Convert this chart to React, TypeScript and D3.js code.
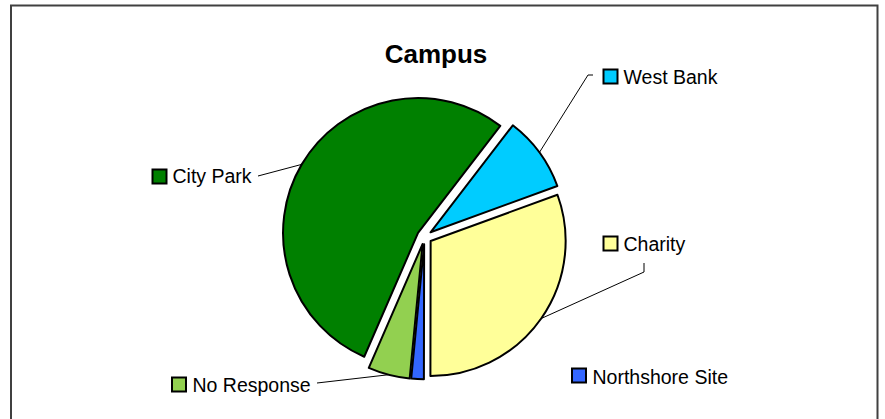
import React from "react";
import * as d3 from "d3";

const categories = ["City Park", "West Bank", "Charity", "Northshore Site", "No Response"];
const values = [53.9, 9.0, 30.6, 1.5, 5.0];
const colors = ["#008000", "#00CCFF", "#FFFF99", "#3366FF", "#92D050"];
const title = "Campus";

// layout (not data)
const W = 885, H = 419;
const cx = 424.5, cy = 236.75, R = 135, explode = 7.5;
const startDeg = 203.5;
const labelLayout = [
  { sx: 152.5, sy: 169.5, tx: 172.5, ty: 183, knee: [[258, 176]] as number[][] },
  { sx: 603.5, sy: 69.5, tx: 623.5, ty: 83.5, knee: [[593, 75], [588, 75]] },
  { sx: 603.5, sy: 236.5, tx: 623.5, ty: 251, knee: [[644, 263], [644, 272]] },
  { sx: 572, sy: 368.5, tx: 592.5, ty: 383.5, knee: [] },
  { sx: 172, sy: 377.5, tx: 192.5, ty: 392, knee: [[317, 383]] },
];

export default function App() {
  const a0 = (startDeg * Math.PI) / 180;
  const pie = d3.pie<number>().sort(null).value((d) => d).startAngle(a0).endAngle(a0 + 2 * Math.PI);
  const arcs = pie(values);
  const arcGen = d3.arc<d3.PieArcDatum<number>>().innerRadius(0).outerRadius(R);
  const edgeGen = d3.arc<d3.PieArcDatum<number>>().innerRadius(R).outerRadius(R);
  const line = d3.line();

  return (
    <svg width={W} height={H} style={{ position: "absolute", left: 0, top: 0 }} fontFamily="'Liberation Sans', Arial, sans-serif">
      <rect x={0} y={0} width={W} height={H} fill="#fff" />
      <path d={`M11,${H + 5}V5.5H877.5V${H + 5}`} fill="none" stroke="#404040" strokeWidth={2} />
      <text x={436} y={62.5} textAnchor="middle" fontWeight="bold" fontSize={26} fill="#000">{title}</text>
      {arcs.map((a, i) => {
        const mid = (a.startAngle + a.endAngle) / 2;
        const ox = cx + explode * Math.sin(mid);
        const oy = cy - explode * Math.cos(mid);
        const [ex, ey] = edgeGen.centroid(a);
        const L = labelLayout[i];
        const pts: [number, number][] = [...L.knee.map((p) => [p[0], p[1]] as [number, number]), [ox + ex, oy + ey]];
        return (
          <g key={categories[i]}>
            <path d={arcGen(a) || ""} transform={`translate(${ox},${oy})`} fill={colors[i]} stroke="#000" strokeWidth={2} strokeLinejoin="round" />
            {L.knee.length > 0 && <path d={line(pts) || ""} fill="none" stroke="#000" strokeWidth={1} />}
          </g>
        );
      })}
      {categories.map((c, i) => {
        const L = labelLayout[i];
        return (
          <g key={"l" + c}>
            <rect x={L.sx} y={L.sy} width={14} height={14} fill={colors[i]} stroke="#000" strokeWidth={2} />
            <text x={L.tx} y={L.ty} fontSize={19.5} fill="#000">{c}</text>
          </g>
        );
      })}
    </svg>
  );
}
